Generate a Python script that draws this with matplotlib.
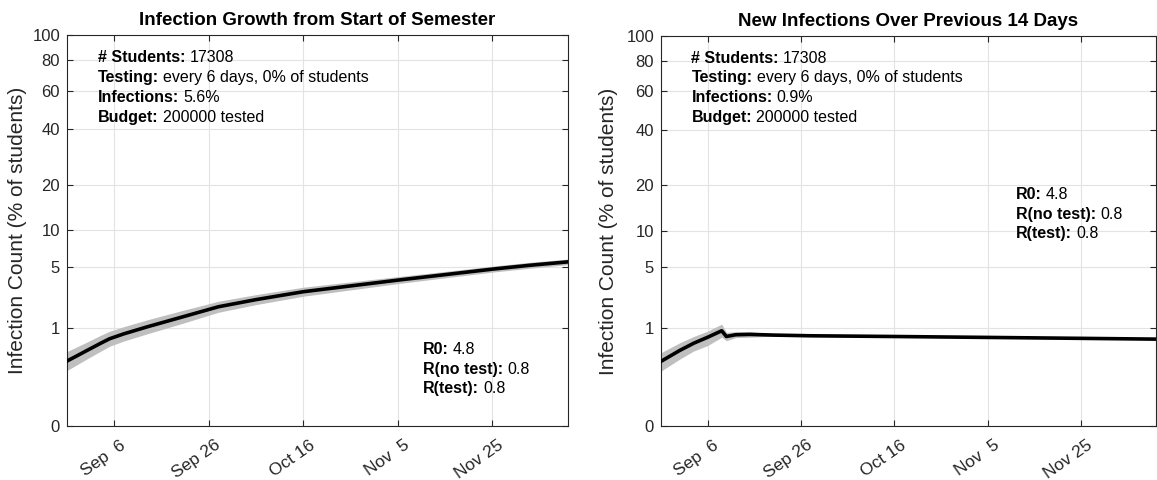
"""
Two panels: cumulative infections and new infections over the previous 14 days,
on a power (x^0.3) y-axis, with a grey uncertainty band round each line.
"""

import numpy as np
import matplotlib
matplotlib.use('Agg')
import matplotlib.pyplot as plt
import matplotlib.dates as mdates
import matplotlib.transforms as mtransforms

plt.rcParams['font.family'] = ['Liberation Sans', 'DejaVu Sans']

# Cumulative infections (% of students)
total_dates = ['2020-08-27', '2020-08-29', '2020-08-31', '2020-09-03', '2020-09-05', '2020-09-08',
               '2020-09-13', '2020-09-20', '2020-09-28', '2020-10-06', '2020-10-16', '2020-10-26',
               '2020-11-05', '2020-11-15', '2020-11-25', '2020-12-03', '2020-12-11']
total_mid = [0.252, 0.322, 0.406, 0.558, 0.673, 0.808, 1.034, 1.394, 1.907, 2.318, 2.837, 3.266,
             3.739, 4.229, 4.762, 5.168, 5.54]
total_low = [0.149, 0.204, 0.272, 0.397, 0.499, 0.616, 0.811, 1.135, 1.629, 2.027, 2.532, 2.965,
             3.448, 3.939, 4.467, 4.855, 5.233]
total_high = [0.397, 0.483, 0.580, 0.759, 0.886, 1.038, 1.298, 1.692, 2.216, 2.638, 3.166, 3.587,
              4.046, 4.534, 5.073, 5.498, 5.863]

# New infections over previous 14 days (% of students)
new_dates = ['2020-08-27', '2020-08-31', '2020-09-03', '2020-09-06', '2020-09-09', '2020-09-10',
             '2020-09-12', '2020-09-15', '2020-09-20', '2020-09-28', '2020-10-16', '2020-11-05',
             '2020-11-25', '2020-12-11']
new_mid = [0.25, 0.42, 0.57, 0.72, 0.91, 0.74, 0.79, 0.80, 0.78, 0.76, 0.74, 0.715, 0.69, 0.67]
new_low = [0.145, 0.28, 0.41, 0.52, 0.72, 0.63, 0.71, 0.72, 0.75, 0.74, 0.72, 0.70, 0.675, 0.655]
new_high = [0.38, 0.58, 0.74, 0.90, 1.14, 0.86, 0.88, 0.88, 0.82, 0.785, 0.76, 0.73, 0.705, 0.685]

# Axis ticks
x_start, x_end = '2020-08-27', '2020-12-11'
xtick_dates = ['2020-09-06', '2020-09-26', '2020-10-16', '2020-11-05', '2020-11-25']
xtick_labels = ['Sep  6', 'Sep 26', 'Oct 16', 'Nov  5', 'Nov 25']
ytick_vals = [0, 1, 5, 10, 20, 40, 60, 80, 100]

# Text boxes
titles = ['Infection Growth from Start of Semester', 'New Infections Over Previous 14 Days']
info_keys = ['# Students:', 'Testing:', 'Infections:', 'Budget:']
info_vals = [['17308', 'every 6 days, 0% of students', '5.6%', '200000 tested'],
             ['17308', 'every 6 days, 0% of students', '0.9%', '200000 tested']]
r_keys = ['R0:', 'R(no test):', 'R(test):']
r_vals = ['4.8', '0.8', '0.8']

dark = '#262626'


def fwd(v):
    return np.abs(v) ** 0.3


def inv(v):
    return np.abs(v) ** (1 / 0.3)


def bold_line(ax, x, y, key, value, size=11.5):
    t = ax.text(x, y, key, transform=ax.transAxes, fontsize=size, fontweight='bold',
                ha='left', va='baseline', color='black')
    ax.annotate(value, xy=(1, 0), xycoords=t, xytext=(3, 0), textcoords='offset points',
                fontsize=size, ha='left', va='bottom', color='black')


fig = plt.figure(figsize=(11.57, 4.8), dpi=100)
ax1 = fig.add_axes([67 / 1157, 54 / 480, 501 / 1157, 391 / 480])
ax2 = fig.add_axes([661 / 1157, 54 / 480, 495 / 1157, 390 / 480])

series = [(total_dates, total_mid, total_low, total_high),
          (new_dates, new_mid, new_low, new_high)]
r_pos = [(0.71, 0.184, 0.050), (0.717, 0.581, 0.049)]
label_x = [-40 / 501, -43 / 495]

for i, ax in enumerate([ax1, ax2]):
    d, mid, low, high = series[i]
    x = np.array(d, dtype='datetime64[D]')
    ax.fill_between(x, low, high, color='#bfbfbf', lw=0, zorder=2)
    ax.plot(x, mid, color='black', lw=2.6, zorder=3)

    ax.set_yscale('function', functions=(fwd, inv))
    ax.set_ylim(0, 100)
    ax.set_yticks(ytick_vals)
    ax.set_yticklabels([str(v) for v in ytick_vals])
    ax.set_xlim(np.datetime64(x_start), np.datetime64(x_end))
    ax.set_xticks(np.array(xtick_dates, dtype='datetime64[D]'))

    ax.grid(True, color='#e3e3e3', lw=0.8)
    ax.set_axisbelow(True)
    ax.tick_params(direction='in', top=True, right=True, length=4, width=0.8, color=dark,
                   labelcolor=dark)
    ax.tick_params(axis='x', labelbottom=False)
    ax.tick_params(axis='y', pad=5, labelsize=12)
    for s in ax.spines.values():
        s.set_color(dark)
        s.set_linewidth(0.8)

    # rotated date labels, anchored at their top right corner just below each tick
    offset = mtransforms.ScaledTranslation(5.3 / 100, -11.5 / 100, fig.dpi_scale_trans)
    for td, tl in zip(xtick_dates, xtick_labels):
        ax.text(mdates.date2num(np.datetime64(td)), 0, tl, transform=ax.get_xaxis_transform() + offset,
                rotation=35, rotation_mode='anchor', ha='right', va='top', fontsize=12.5, color=dark)

    ax.set_ylabel('Infection Count (% of students)', fontsize=15, color=dark)
    ax.yaxis.set_label_coords(label_x[i], 0.5)
    ax.set_title(titles[i], fontsize=13.5, fontweight='bold', pad=7)

    # info block, top left
    for k in range(4):
        bold_line(ax, 0.0615, 0.932 - k * 0.0512, info_keys[k], info_vals[i][k])
    # R block
    rx, ry, step = r_pos[i]
    for k in range(3):
        bold_line(ax, rx, ry - k * step, r_keys[k], r_vals[k])

fig.savefig('out.png', dpi=100)
